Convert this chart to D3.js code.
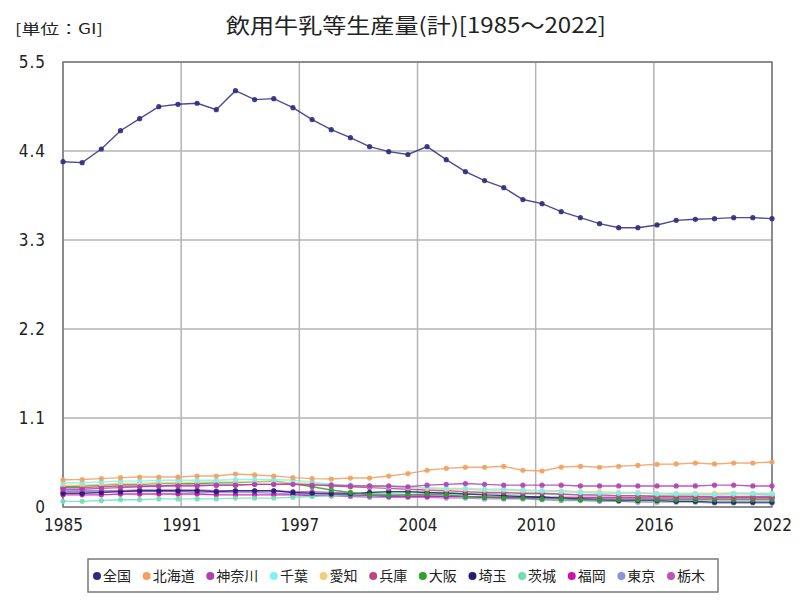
<!DOCTYPE html>
<html><head><meta charset="utf-8">
<script src="https://cdn.jsdelivr.net/npm/d3@7"></script>
<style>
body{margin:0;background:#fff;}
text{font-family:"Noto Sans CJK JP","Noto Sans",sans-serif;fill:#222;}
</style></head>
<body><svg id="c" width="800" height="600"></svg>
<script>
const years = d3.range(1985, 2023);
const seriesNames = ["全国","北海道","神奈川","千葉","愛知","兵庫","大阪","埼玉","茨城","福岡","東京","栃木"];
const seriesColors = ["#2b2b80","#f0a060","#b040b0","#80f0f0","#f0d080","#c04880","#30a030","#202070","#70e0b0","#d010b0","#9090d8","#c050c0"];
const zenkoku = [4.268,4.256,4.425,4.651,4.80,4.948,4.977,4.99,4.911,5.146,5.035,5.047,4.936,4.788,4.664,4.565,4.454,4.392,4.357,4.454,4.293,4.145,4.034,3.947,3.80,3.749,3.65,3.576,3.502,3.452,3.452,3.486,3.543,3.556,3.564,3.576,3.576,3.564];
const hokkaido = [0.336,0.339,0.351,0.363,0.371,0.371,0.371,0.383,0.383,0.408,0.396,0.383,0.363,0.351,0.346,0.358,0.358,0.383,0.413,0.454,0.478,0.491,0.491,0.503,0.454,0.445,0.494,0.503,0.491,0.503,0.515,0.528,0.532,0.544,0.532,0.544,0.544,0.556];
const kanagawa = [0.22,0.22,0.23,0.24,0.25,0.26,0.26,0.26,0.27,0.27,0.28,0.28,0.28,0.27,0.27,0.26,0.26,0.26,0.25,0.27,0.28,0.29,0.28,0.27,0.27,0.27,0.27,0.26,0.26,0.26,0.26,0.26,0.26,0.26,0.27,0.27,0.26,0.26];
const chiba = [0.30,0.30,0.31,0.32,0.32,0.33,0.33,0.33,0.33,0.34,0.34,0.34,0.33,0.31,0.28,0.27,0.26,0.25,0.24,0.24,0.23,0.23,0.22,0.22,0.21,0.20,0.19,0.18,0.17,0.17,0.17,0.16,0.16,0.16,0.15,0.16,0.17,0.16];
const aichi = [0.27,0.27,0.28,0.29,0.29,0.30,0.30,0.31,0.31,0.31,0.31,0.31,0.30,0.29,0.28,0.27,0.26,0.25,0.24,0.23,0.22,0.22,0.21,0.21,0.20,0.20,0.20,0.19,0.19,0.18,0.18,0.17,0.17,0.17,0.17,0.17,0.17,0.17];
const hyogo = [0.24,0.24,0.25,0.26,0.26,0.26,0.27,0.27,0.27,0.27,0.28,0.28,0.29,0.28,0.26,0.25,0.24,0.23,0.22,0.21,0.20,0.19,0.18,0.18,0.17,0.17,0.16,0.15,0.15,0.14,0.14,0.13,0.13,0.13,0.12,0.12,0.12,0.12];
const osaka = [0.25,0.26,0.27,0.28,0.28,0.29,0.29,0.29,0.30,0.30,0.31,0.32,0.29,0.25,0.21,0.18,0.15,0.14,0.15,0.16,0.15,0.13,0.12,0.11,0.11,0.10,0.10,0.09,0.09,0.09,0.09,0.09,0.09,0.09,0.09,0.09,0.09,0.09];
const saitama = [0.17,0.17,0.18,0.19,0.20,0.20,0.20,0.20,0.19,0.20,0.20,0.20,0.18,0.17,0.16,0.16,0.18,0.19,0.19,0.18,0.17,0.16,0.15,0.14,0.13,0.12,0.11,0.10,0.09,0.08,0.08,0.08,0.07,0.07,0.06,0.06,0.06,0.06];
const ibaraki = [0.07,0.07,0.08,0.09,0.09,0.10,0.10,0.10,0.10,0.11,0.11,0.11,0.12,0.13,0.14,0.15,0.16,0.17,0.18,0.18,0.18,0.17,0.17,0.16,0.16,0.16,0.15,0.15,0.14,0.14,0.14,0.14,0.15,0.15,0.16,0.17,0.16,0.15];
const fukuoka = [0.15,0.15,0.15,0.16,0.16,0.16,0.16,0.16,0.15,0.15,0.15,0.15,0.15,0.14,0.14,0.14,0.14,0.13,0.13,0.13,0.13,0.13,0.12,0.12,0.12,0.12,0.11,0.11,0.11,0.11,0.11,0.11,0.11,0.11,0.11,0.11,0.11,0.11];
const tokyo = [0.20,0.20,0.20,0.19,0.19,0.19,0.19,0.18,0.18,0.18,0.18,0.17,0.16,0.15,0.14,0.13,0.12,0.12,0.12,0.12,0.11,0.11,0.10,0.10,0.10,0.09,0.08,0.08,0.07,0.07,0.06,0.06,0.06,0.06,0.05,0.05,0.05,0.05];
const tochigi = [0.19,0.19,0.20,0.20,0.21,0.21,0.21,0.21,0.20,0.20,0.20,0.20,0.19,0.19,0.18,0.17,0.16,0.15,0.15,0.14,0.13,0.13,0.12,0.12,0.12,0.12,0.12,0.12,0.12,0.12,0.12,0.13,0.13,0.13,0.13,0.13,0.13,0.13];
const yTicks = [0,1.1,2.2,3.3,4.4,5.5];
const xTickLabels = ["1985","1991","1997","2004","2010","2016","2022"];
const title = "飲用牛乳等生産量(計)[1985～2022]";
const unitLabel = "[単位：GI]";

const allValues = [zenkoku,hokkaido,kanagawa,chiba,aichi,hyogo,osaka,saitama,ibaraki,fukuoka,tokyo,tochigi];
const series = seriesNames.map((n,i)=>({name:n,color:seriesColors[i],values:allValues[i]}));

const svg = d3.select("#c");
const L=63, R=772, T=62, B=507;
const x = d3.scaleLinear().domain([1985,2022]).range([L,R]);
const y = d3.scaleLinear().domain([0,5.5]).range([B,T]);

// grid
const xTickPos = xTickLabels.map((_,i)=>1985 + 37*i/6);
const g = svg.append("g");
g.selectAll("line.h").data(yTicks).join("line")
 .attr("x1",L).attr("x2",R).attr("y1",d=>y(d)).attr("y2",d=>y(d))
 .attr("stroke","#b4b4b4").attr("stroke-width",1.5);
g.selectAll("line.v").data(xTickPos).join("line")
 .attr("y1",T).attr("y2",B).attr("x1",d=>x(d)).attr("x2",d=>x(d))
 .attr("stroke","#b4b4b4").attr("stroke-width",1.5);
svg.append("rect").attr("x",L).attr("y",T).attr("width",R-L).attr("height",B-T)
 .attr("fill","none").attr("stroke","#7a7a7a").attr("stroke-width",1.5);

// axes labels
const yAxis = d3.axisLeft(y).tickValues(yTicks).tickFormat(d=>d===0?"0":d3.format(".1f")(d)).tickSize(0).tickPadding(17);
const ya = svg.append("g").attr("transform",`translate(${L},0)`).call(yAxis);
ya.select(".domain").remove();
ya.selectAll("text").style("font-size","17px").attr("fill","#222").style("font-family","'Liberation Sans Narrow','DejaVu Sans Condensed','Noto Sans',sans-serif").attr("letter-spacing","1px");
const xAxis = d3.axisBottom(x).tickValues(xTickPos).tickFormat((d,i)=>xTickLabels[i]).tickSize(0).tickPadding(12);
const xa = svg.append("g").attr("transform",`translate(0,${B})`).call(xAxis);
xa.select(".domain").remove();
xa.selectAll("text").style("font-size","17px").attr("fill","#222").style("font-family","'DejaVu Sans Condensed','Noto Sans',sans-serif");

// lines
const line = d3.line().x((d,i)=>x(years[i])).y(d=>y(d));
const sg = svg.append("g");
series.slice().reverse().forEach(s=>{
  const gg = sg.append("g");
  gg.append("path").attr("d",line(s.values)).attr("fill","none")
    .attr("stroke",s.color).attr("stroke-width",1.4).attr("stroke-opacity",0.85);
  gg.selectAll("circle").data(s.values).join("circle")
    .attr("cx",(d,i)=>x(years[i])).attr("cy",d=>y(d)).attr("r",2.6)
    .attr("fill",s.color).attr("fill-opacity",0.9);
});

// titles
svg.append("text").attr("x",416).attr("y",33).attr("text-anchor","middle")
 .style("font-size","21px").attr("textLength",380).attr("lengthAdjust","spacingAndGlyphs").text(title);
svg.append("text").attr("x",15).attr("y",34).style("font-size","14px")
 .attr("textLength",88).attr("lengthAdjust","spacingAndGlyphs").text(unitLabel);

// legend
const lg = svg.append("g");
lg.append("rect").attr("x",88).attr("y",559).attr("width",630).attr("height",33)
 .attr("fill","#fff").attr("stroke","#7a7a7a").attr("stroke-width",1.5);
const items = lg.selectAll("g.it").data(series).join("g");
items.append("circle").attr("r",4).attr("fill",d=>d.color);
items.append("text").attr("x",6).attr("dy","0.35em").style("font-size","14px").text(d=>d.name);
const widths = [];
items.each(function(){ widths.push(this.getBBox().width); });
const total = d3.sum(widths);
const gap = (612 - total)/(series.length-1);
let cx = 97;
items.attr("transform",(d,i)=>{ const t=`translate(${cx},576)`; cx += widths[i]+gap; return t; });
</script></body></html>
